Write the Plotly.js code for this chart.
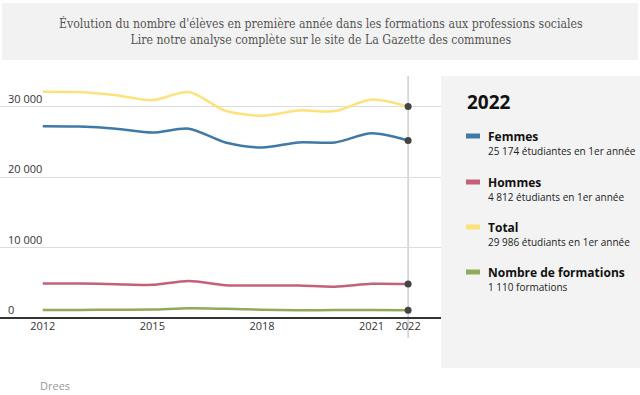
<!DOCTYPE html>
<html>
<head>
<meta charset="utf-8">
<script src="https://cdn.plot.ly/plotly-3.0.1.min.js"></script>
<style>html,body{margin:0;padding:0;background:#fff;}#chart{width:640px;height:395px;}</style>
</head>
<body>
<div id="chart"></div>
<script>
const years = [2012, 2013, 2014, 2015, 2016, 2017, 2018, 2019, 2020, 2021, 2022];
const femmes = [27200, 27150, 26850, 26300, 26850, 24900, 24200, 24900, 24900, 26200, 25174];
const hommes = [4900, 4900, 4800, 4700, 5250, 4650, 4600, 4600, 4450, 4850, 4812];
const total = [32100, 32050, 31600, 30900, 32050, 29400, 28700, 29450, 29350, 31000, 29986];
const formations = [1150, 1150, 1180, 1200, 1380, 1300, 1180, 1100, 1120, 1120, 1110];

const seriesNames = ["Femmes", "Hommes", "Total", "Nombre de formations"];
const seriesSub = ["25 174 étudiantes en 1er année", "4 812 étudiants en 1er année", "29 986 étudiants en 1er année", "1 110 formations"];
const seriesColors = ["#3f79a8", "#c3607a", "#fde27c", "#93a95a"];
const seriesData = [femmes, hommes, total, formations];

const xTicks = [2012, 2015, 2018, 2021, 2022];
const yTicks = [0, 10000, 20000, 30000];
const yTickText = ["0", "10 000", "20 000", "30 000"];
const titleText = "Évolution du nombre d'élèves en première année dans les formations aux professions sociales<br>Lire notre analyse complète sur le site de La Gazette des communes";
const sourceText = "Drees";
const legendYear = "2022";

// pixel -> paper helpers (plot area: x 0..441, y 76..318)
const PW = 441, PT = 76, PB = 318, PH = PB - PT;
const px = x => x / PW;
const py = y => (PB - y) / PH;

const FONT = "Open Sans, sans-serif";
const traces = [];
[2, 0, 1, 3].forEach(i => {
  traces.push({
    x: years, y: seriesData[i], type: "scatter", mode: "lines",
    line: {color: seriesColors[i], width: 2.5, shape: "spline", smoothing: 0.8},
    hoverinfo: "skip", showlegend: false
  });
});
const last = years.length - 1;
traces.push({
  x: seriesData.map(() => years[last]),
  y: seriesData.map(d => d[last]),
  type: "scatter", mode: "markers",
  marker: {color: "#444", size: 7},
  hoverinfo: "skip", showlegend: false
});

const shapes = [
  {type: "rect", xref: "paper", yref: "paper", x0: px(2), x1: px(638), y0: py(60), y1: py(3), fillcolor: "#f2f2f2", line: {width: 0}, layer: "below"},
  {type: "rect", xref: "paper", yref: "paper", x0: px(441), x1: px(640), y0: py(368), y1: py(76), fillcolor: "#f3f3f3", line: {width: 0}, layer: "below"},
  {type: "line", xref: "x", yref: "paper", x0: years[last], x1: years[last], y0: py(338), y1: 1, line: {color: "#cfcfcf", width: 1.5}, layer: "below"}
];
const annotations = [
  {xref: "paper", yref: "paper", x: px(321), y: py(31), text: titleText, showarrow: false, xanchor: "center", yanchor: "middle",
   font: {family: "DejaVu Serif Condensed, DejaVu Serif, serif", size: 12.2, color: "#555"}, align: "center"},
  {xref: "paper", yref: "paper", x: px(38), y: py(385), text: sourceText, showarrow: false, xanchor: "left", yanchor: "middle",
   font: {family: FONT, size: 11, color: "#999"}},
  {xref: "paper", yref: "paper", x: px(465), y: py(102), text: "<b>" + legendYear + "</b>", showarrow: false, xanchor: "left", yanchor: "middle",
   font: {family: FONT, size: 19, color: "#111"}}
];
const titleY = [136, 182, 227, 272];
seriesNames.forEach((n, i) => {
  shapes.push({type: "rect", xref: "paper", yref: "paper", x0: px(466), x1: px(480), y0: py(titleY[i] + 2.5), y1: py(titleY[i] - 2.5),
    fillcolor: seriesColors[i], line: {width: 0}});
  annotations.push({xref: "paper", yref: "paper", x: px(486), y: py(titleY[i]), text: "<b>" + n + "</b>", showarrow: false,
    xanchor: "left", yanchor: "middle", font: {family: FONT, size: 12, color: "#111"}});
  annotations.push({xref: "paper", yref: "paper", x: px(486), y: py(titleY[i] + 15), text: seriesSub[i], showarrow: false,
    xanchor: "left", yanchor: "middle", font: {family: FONT, size: 10, color: "#222"}});
});

const layout = {
  width: 640, height: 395,
  margin: {l: 0, r: 199, t: 76, b: 77, pad: 0},
  paper_bgcolor: "#fff", plot_bgcolor: "rgba(0,0,0,0)",
  showlegend: false,
  xaxis: {range: [2010.83, 2022.9], tickvals: xTicks, ticktext: xTicks.map(String), showgrid: false, zeroline: false,
    showline: false, ticks: "", tickfont: {family: FONT, size: 11, color: "#333"}, fixedrange: true},
  yaxis: {range: [0, 34330], tickvals: yTicks, ticktext: yTickText, showgrid: true, gridcolor: "#dddddd", gridwidth: 1,
    zeroline: true, zerolinecolor: "#333", zerolinewidth: 1.5, showline: false, ticks: "",
    ticklabelposition: "inside top", ticklabelstandoff: 5, tickfont: {family: FONT, size: 11, color: "#333"}, fixedrange: true},
  shapes: shapes, annotations: annotations
};
Plotly.newPlot("chart", traces, layout, {displayModeBar: false, staticPlot: true});
</script>
</body>
</html>
